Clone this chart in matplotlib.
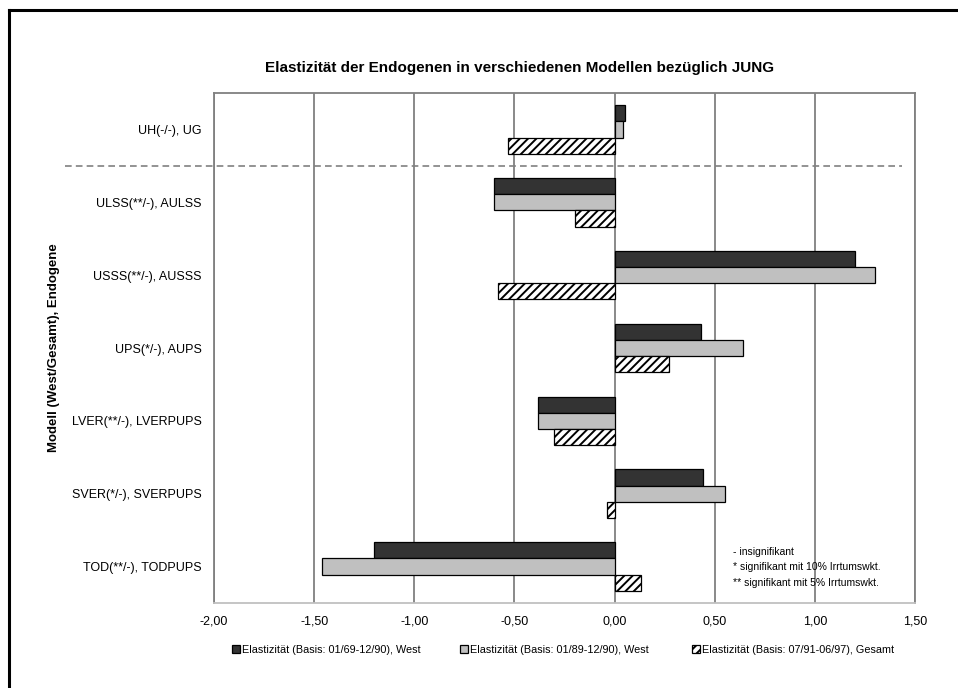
import numpy as np
import matplotlib
matplotlib.use("Agg")
import matplotlib.pyplot as plt
from matplotlib.lines import Line2D
from matplotlib.ticker import FuncFormatter

plt.rcParams["font.family"] = ["Liberation Sans", "DejaVu Sans"]
plt.rcParams["hatch.linewidth"] = 1.4

categories = [
    "UH(-/-), UG",
    "ULSS(**/-), AULSS",
    "USSS(**/-), AUSSS",
    "UPS(*/-), AUPS",
    "LVER(**/-), LVERPUPS",
    "SVER(*/-), SVERPUPS",
    "TOD(**/-), TODPUPS",
]
west_69 = [0.05, -0.60, 1.20, 0.43, -0.38, 0.44, -1.20]
west_89 = [0.04, -0.60, 1.30, 0.64, -0.38, 0.55, -1.46]
gesamt_91 = [-0.53, -0.20, -0.58, 0.27, -0.30, -0.04, 0.13]
series_labels = [
    "Elastizität (Basis: 01/69-12/90), West",
    "Elastizität (Basis: 01/89-12/90), West",
    "Elastizität (Basis: 07/91-06/97), Gesamt",
]
notes = [
    "- insignifikant",
    "* signifikant mit 10% Irrtumswkt.",
    "** signifikant mit 5% Irrtumswkt.",
]

W, H = 958, 688
fig = plt.figure(figsize=(W / 100, H / 100), dpi=100)
ax = fig.add_axes([214 / W, 1 - 603 / H, 701 / W, 510 / H])

y = np.arange(len(categories))
h = 0.222
b1 = ax.barh(y - h, west_69, height=h, color="#333333", edgecolor="black", linewidth=0.9, zorder=3)
b2 = ax.barh(y, west_89, height=h, color="#c0c0c0", edgecolor="black", linewidth=0.9, zorder=3)
b3 = ax.barh(y + h, gesamt_91, height=h, color="white", edgecolor="black", hatch="////", linewidth=0.9, zorder=3)

ax.set_xlim(-2.0, 1.5)
ax.set_ylim(len(categories) - 0.5, -0.5)
ax.set_xticks(np.arange(-2.0, 1.51, 0.5))
ax.xaxis.set_major_formatter(FuncFormatter(lambda v, p: f"{v:.2f}".replace(".", ",")))
ax.set_yticks(y)
ax.set_yticklabels(categories)
ax.tick_params(axis="both", length=0, labelsize=9)
ax.tick_params(axis="y", pad=9)
ax.tick_params(axis="x", pad=9)
ax.grid(axis="x", color="#808080", linewidth=1.3, zorder=0)
for side in ["top", "left", "right"]:
    ax.spines[side].set_color("#808080")
    ax.spines[side].set_linewidth(1.3)
ax.spines["bottom"].set_color("#c0c0c0")
ax.spines["bottom"].set_linewidth(1.3)

# dashed separator between the first group and the rest
ax.plot([-0.2126, 0.9815], [0.5, 0.5], transform=ax.get_yaxis_transform(),
        color="#808080", linestyle=(0, (4, 2.5)), linewidth=1.2, clip_on=False, zorder=4)

ax.set_ylabel("Modell (West/Gesamt), Endogene", fontsize=9.5, fontweight="bold")
ax.yaxis.set_label_coords(-154 / 701, 0.5)

fig.text(520 / W, 1 - 68 / H, "Elastizität der Endogenen in verschiedenen Modellen bezüglich JUNG",
         ha="center", va="center", fontsize=11, fontweight="bold")

for i, note in enumerate(notes):
    fig.text(733 / W, 1 - (552 + i * 15.5) / H, note, ha="left", va="center", fontsize=7.5)

# legend entries placed one by one below the axis
legend_x = [232, 460, 692]
for bars, label, lx in zip([b1, b2, b3], series_labels, legend_x):
    fig.legend([bars], [label], loc="center left", bbox_to_anchor=(lx / W, 1 - 650 / H),
               frameon=False, fontsize=7.8, handlelength=0.75, handleheight=0.75,
               handletextpad=0.2, borderpad=0, borderaxespad=0)

# outer frame (only top and left edges visible)
fig.add_artist(Line2D([9 / W, 1.0], [1 - 10 / H, 1 - 10 / H], transform=fig.transFigure, color="black", linewidth=2.2))
fig.add_artist(Line2D([9 / W, 9 / W], [0.0, 1 - 10 / H], transform=fig.transFigure, color="black", linewidth=2.2))

fig.savefig("out.png", dpi=100)
